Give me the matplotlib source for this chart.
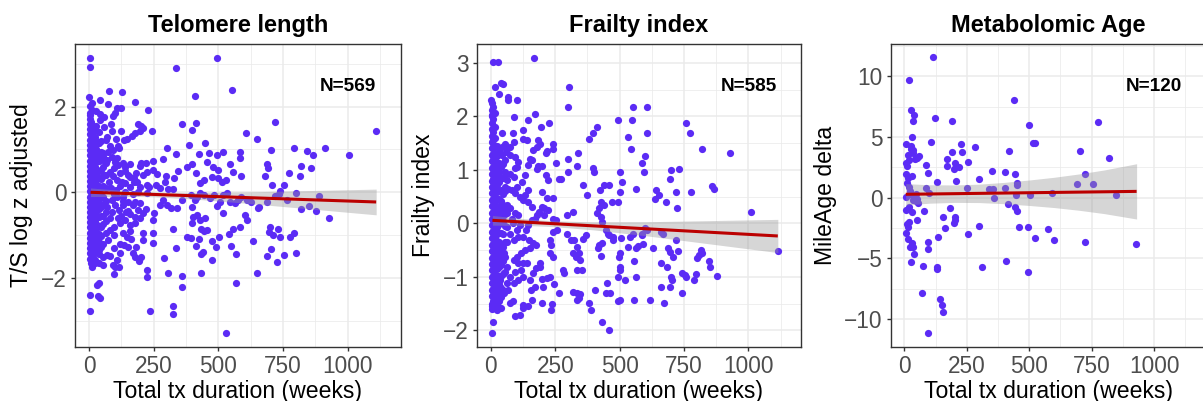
import numpy as np
import matplotlib
matplotlib.use("Agg")
import matplotlib.pyplot as plt
from matplotlib.ticker import MultipleLocator

plt.rcParams['font.family'] = ['Liberation Sans', 'DejaVu Sans']

# ---------------- Telomere length ----------------
tel_pts = [
    (4, 3.14), (4, 2.92), (494, 3.14), (336, 2.91), (554, 2.39), (411, 2.25), (1110, 1.42),
    (76, 2.37), (129, 2.33), (177, 2.11), (229, 1.92), (0, 2.23), (12, 2.09), (43, 2.16),
    (75, 2.06), (107, 1.96), (122, 1.97), (100, 1.86), (94, 1.78), (12, 1.92), (26, 1.90),
    (43, 1.82), (4, 1.8),
    (358, 1.6), (412, 1.61), (400, 1.46), (608, 1.39), (650, 1.25), (719, 1.64), (1006, 0.86),
    (914, 1.04), (841, 0.96), (865, 0.86), (791, 1.04), (702, 0.98), (582, 0.95), (583, 0.81),
    (519, 0.93), (494, 0.86), (449, 1.14), (388, 1.10), (425, 0.89), (464, 0.91), (335, 0.89),
    (300, 1.03), (285, 0.77), (246, 0.74), (242, 1.42), (210, 1.49), (199, 1.44), (188, 1.59),
    (202, 1.55), (179, 1.39), (168, 1.32), (135, 1.21), (148, 1.25), (124, 1.43), (104, 1.24),
    (111, 1.08), (88, 1.42), (67, 1.22), (58, 1.53), (43, 1.69),
    (397, 0.66), (380, 0.6), (415, 0.44), (455, 0.70), (480, 0.60), (500, 0.52), (545, 0.66),
    (558, 0.48), (586, 0.38), (445, 0.29), (429, 0.21), (474, 0.35), (500, 0.33), (513, 0.23),
    (530, 0.29), (343, 0.50), (327, 0.33), (298, 0.39), (262, 0.42), (249, 0.52), (223, 0.48),
    (210, 0.40), (197, 0.61), (220, 0.68), (183, 0.44), (174, 0.25), (152, 0.40), (138, 0.58),
    (159, 0.65), (202, 0.69),
    (687, 0.66), (693, 0.56), (682, 0.37), (706, 0.17), (754, 0.16), (773, 0.44), (816, 0.38),
    (818, 0.62), (859, 0.56), (889, -0.09), (929, -0.59), (876, -0.43), (851, -0.31),
    (819, -0.39), (800, -0.01), (767, -0.18), (736, -0.05), (738, 0.02), (720, -0.09),
    (687, -0.22), (657, -0.35), (652, -0.37), (627, -0.22), (609, -0.18), (589, -0.1),
    (576, -0.18), (563, -0.24), (545, -0.22), (533, -0.01), (517, -0.06), (506, -0.22),
    (495, -0.33), (517, -0.49), (482, -0.06), (466, -0.14), (445, -0.06), (429, -0.02),
    (416, -0.12), (399, -0.35), (408, -0.18), (394, -0.06), (361, -0.18), (341, -0.37),
    (318, -0.37), (300, -0.30), (287, -0.18), (274, -0.30), (251, -0.49), (249, -0.65),
    (259, 0.17), (274, 0.11), (295, 0.25), (307, 0.08), (326, 0.08),
    (710, -1.0), (699, -0.80), (694, -0.93), (739, -1.04), (729, -0.86), (794, -0.96),
    (776, -1.04), (799, -1.41), (755, -1.46), (726, -1.62), (703, -1.33), (687, -1.49),
    (648, -1.88), (633, -1.13), (609, -0.65), (603, -0.53), (583, -0.80), (570, -1.44),
    (570, -2.12), (549, -1.25), (558, -0.86), (543, -0.98), (504, -1.05), (491, -1.27),
    (474, -1.13), (457, -0.88), (446, -0.90), (434, -0.86), (448, -0.61), (429, -0.65),
    (416, -0.53), (403, -0.57), (399, -0.72), (380, -1.05), (396, -1.07), (425, -1.10),
    (414, -1.25), (441, -1.40), (433, -1.44), (475, -1.58), (433, -1.89), (361, -1.95),
    (358, -2.22), (335, -1.31), (323, -0.86), (304, -1.88), (290, -1.54), (249, -1.19),
    (249, -0.94), (207, -0.96), (207, -1.11), (223, -1.81), (223, -1.97), (236, -2.77),
    (326, -2.65), (323, -2.84), (528, -3.28), (5, -2.77), (5, -2.39), (34, -2.41),
    (43, -2.47), (37, -2.11), (30, -2.16),
    (200, -1.50), (194, -1.60), (178, -1.50), (171, -1.42), (182, -1.27), (152, -1.27),
    (161, -1.10), (146, -1.05), (133, -0.96), (137, -1.23), (120, -1.42), (110, -1.58),
    (100, -1.74), (94, -1.70), (115, -1.74), (97, -1.91), (81, -1.49), (68, -1.46),
    (55, -1.52), (39, -1.45), (38, -1.66), (22, -1.66), (10, -1.74), (55, -1.70),
    (75, -1.11), (66, -0.96), (81, -0.88), (97, -0.80), (120, -0.71), (140, -0.65),
    (159, -0.76), (177, -0.71), (177, -0.57), (197, -0.61), (210, -0.49), (220, -0.38),
    (191, -0.41), (169, -0.30), (152, -0.44), (133, -0.30), (117, -0.41), (100, -0.30),
    (88, -0.18), (110, -0.10), (133, -0.10), (150, -0.22), (177, -0.22), (197, -0.26),
    (225, -0.02), (233, 0.13), (223, 0.17), (199, 0.13), (184, 0.25), (175, 0.33),
    (159, 0.13), (139, 0.21), (126, 0.25), (107, 0.29), (94, 0.37), (81, 0.48), (98, 0.56),
    (113, 0.64), (130, 0.68), (107, 0.79), (88, 0.83), (68, 0.75), (55, 0.91), (75, 0.95),
    (94, 0.99), (116, 1.03), (81, 1.07),
    (85, 0.1), (95, -0.05), (105, 0.05), (120, 0.15), (130, -0.2), (140, 0.0), (90, -0.45),
    (112, -0.6), (125, -0.55), (145, -0.45), (160, -0.5), (102, 0.7), (118, 0.45),
    (140, 0.5), (160, 0.35), (170, -0.05), (188, 0.0), (160, -0.9), (118, -1.2), (98, -1.0),
    (82, -0.6), (70, -0.35), (78, 0.25), (62, 0.4), (70, 1.3), (85, 1.6), (60, 1.75),
    (95, -1.3),
]
# dense column of short durations: x position and the y values stacked there
tel_col_x = [3, 9, 15, 22, 29, 37, 46, 55, 65]
tel_col_y = [
    [2.02, 1.86, 1.72, 1.6, 1.47, 1.35, 1.22, 1.1, 0.98, 0.86, 0.74, 0.62, 0.5, 0.38, 0.26,
     0.14, 0.02, -0.1, -0.22, -0.34, -0.46, -0.58, -0.7, -0.82, -0.94, -1.06, -1.18, -1.3,
     -1.42, -1.55],
    [1.65, 1.5, 1.38, 1.24, 1.12, 0.99, 0.87, 0.75, 0.63, 0.51, 0.39, 0.27, 0.15, 0.03, -0.09,
     -0.21, -0.33, -0.45, -0.57, -0.69, -0.81, -0.93, -1.05, -1.17, -1.29, -1.41, -1.53, -1.65],
    [1.55, 1.41, 1.27, 1.13, 0.93, 0.8, 0.68, 0.56, 0.44, 0.32, 0.2, 0.08, -0.04, -0.16, -0.28,
     -0.4, -0.52, -0.64, -0.76, -0.88, -1.0, -1.12, -1.24, -1.36, -1.5, -1.62],
    [1.45, 1.3, 1.1, 0.95, 0.82, 0.7, 0.58, 0.46, 0.33, 0.2, 0.07, -0.06, -0.19, -0.32, -0.45,
     -0.58, -0.7, -0.83, -0.96, -1.08, -1.25, -1.4, -1.58],
    [1.55, 1.2, 1.0, 0.85, 0.7, 0.55, 0.42, 0.28, 0.12, -0.02, -0.16, -0.3, -0.45, -0.6,
     -0.75, -0.9, -1.05, -1.22, -1.4],
    [1.4, 1.15, 0.9, 0.72, 0.5, 0.33, 0.15, -0.05, -0.22, -0.4, -0.58, -0.78, -0.98, -1.15,
     -1.35],
    [1.2, 0.95, 0.75, 0.52, 0.3, 0.1, -0.12, -0.35, -0.55, -0.8, -1.02, -1.28],
    [0.85, 0.6, 0.38, 0.15, -0.1, -0.3, -0.55, -0.75, -1.2],
    [0.68, 0.4, 0.1, -0.2, -0.45, -0.68],
]
tel_fit_x = [6, 1110]
tel_fit_y = [0.0, -0.226]
tel_band_x = [6, 150, 250, 400, 600, 800, 1000, 1110]
tel_band_hw = [0.10, 0.065, 0.055, 0.075, 0.13, 0.196, 0.263, 0.30]

# ---------------- Frailty index ----------------
fra_pts = [
    (8, 3.02), (27, 3.02), (168, 3.09), (14, 2.54), (40, 2.63), (46, 2.60), (30, 2.41),
    (65, 2.36), (68, 2.30), (101, 2.30), (1, 2.30), (8, 2.18), (14, 2.07), (5, 2.02),
    (88, 1.99), (172, 2.05), (143, 1.93), (227, 1.87), (195, 1.80), (17, 1.80), (123, 1.74),
    (85, 1.68), (43, 1.68), (303, 2.54), (299, 2.18), (550, 2.18), (608, 2.18), (494, 1.93),
    (546, 1.93), (410, 1.80), (397, 1.68), (382, 1.57), (606, 1.68), (533, 1.62), (756, 1.88),
    (774, 1.68), (821, 1.38), (929, 1.32), (543, 1.38), (600, 1.26), (586, 1.13), (594, 0.95),
    (337, 1.32), (335, 1.08), (298, 1.21), (253, 1.13), (397, 1.03), (402, 0.96), (503, 0.95),
    (510, 0.78), (565, 0.65), (299, 0.95), (273, 0.83), (264, 0.83), (357, 0.72), (372, 0.53),
    (439, 0.72), (459, 0.72), (423, 0.62), (503, 0.58), (429, 0.40), (472, 0.40), (494, 0.40),
    (421, 0.28), (439, 0.34), (410, 0.19), (317, 0.22), (294, 0.16), (701, 1.00), (730, 1.01),
    (697, 0.82), (640, 0.63), (636, 0.45), (653, 0.53), (681, 0.40), (719, 0.58), (722, 0.28),
    (778, 0.58), (859, 0.70), (865, 0.64), (1010, 0.22), (1114, -0.51), (821, -0.55),
    (817, -0.50), (808, -0.59), (801, -0.64), (845, -0.70), (852, -0.82), (878, -0.99),
    (797, -0.95), (788, -1.06), (741, -0.93), (754, -0.96), (756, -1.01), (741, -1.31),
    (694, -1.18), (659, -1.18), (700, -1.00), (704, -1.06), (662, -0.75), (684, -0.81),
    (707, -0.62), (694, -0.53), (688, -0.47), (719, -0.32), (726, -0.51), (668, -0.19),
    (662, -0.16), (606, -0.12), (597, -0.08), (587, -0.19), (585, -0.21), (563, -0.47),
    (572, -0.42), (590, -0.39), (552, -0.20), (539, -0.26), (534, -0.44), (628, -0.46),
    (565, -1.00), (556, -1.43), (619, -1.43), (672, -1.49), (557, -0.70), (520, -1.06),
    (497, -0.62), (503, -0.56), (500, -0.81), (494, -1.00), (500, -0.87), (507, -0.28),
    (475, -0.26), (459, -0.22), (454, -0.19), (446, -0.12), (494, -1.46), (500, -1.43),
    (475, -0.31), (432, -0.37), (427, -0.61), (417, -0.47), (419, -0.40), (433, 0.03),
    (429, 0.12), (446, -1.31), (462, -1.31), (449, -1.12), (432, -1.85), (458, -1.99),
    (404, -1.24), (381, -1.49), (389, -1.62), (354, -0.87), (333, -0.87), (345, -0.68),
    (343, -0.56), (324, -0.31), (310, -0.31), (294, -0.19), (333, -0.44), (320, -0.56),
    (330, -0.62), (356, -0.30), (368, -0.22), (284, -0.93), (279, -0.88), (320, -1.28),
    (333, -1.31), (342, -1.40), (345, -1.32), (333, -1.43), (264, -1.31), (246, -1.14),
    (239, -1.51), (233, -1.62), (230, -1.00), (217, -1.02), (197, -1.04), (204, -1.18),
    (192, -0.75), (190, -0.81), (175, -0.84), (172, -1.18), (156, -1.24), (197, -1.49),
    (159, -1.43), (143, -1.54), (126, -1.52), (123, -1.59), (114, -1.71), (94, -1.74),
    (75, -1.49), (85, -1.46), (10, -1.85), (5, -2.04), (23, -1.62), (13, -1.49), (5, -1.54),
    (243, -0.62), (230, -0.56), (233, -0.40), (230, -0.31), (243, -0.16), (255, -0.12),
    (253, 0.07), (240, 0.09), (223, 0.25), (206, 0.28), (243, 0.47), (217, 0.47), (197, 0.59),
    (213, 0.90), (223, 0.81), (243, 1.49), (240, 1.38), (213, 1.32), (182, 1.07), (197, 1.08),
    (179, 1.01), (143, 1.09), (133, 0.90), (101, 1.06), (107, 1.15), (94, 1.24), (75, 1.28),
    (75, 1.43), (65, 1.40), (88, 1.52), (123, 1.57), (140, 1.56), (152, 1.21), (159, 1.19),
    (182, 1.56), (190, 1.49), (179, 1.42), (163, 1.37), (217, 1.36), (143, 0.62), (133, 0.53),
    (94, 0.56), (114, 0.50), (126, 0.44), (143, 0.40), (159, 0.31), (185, 0.22), (197, 0.31),
    (208, 0.16), (178, 0.16), (172, 0.09), (159, 0.06), (143, -0.03), (137, -0.12),
    (126, -0.25), (101, -0.12), (107, -0.25), (88, -0.31), (75, -0.19), (62, -0.34),
    (146, -0.31), (163, -0.37), (175, -0.40), (152, -0.47), (133, -0.50), (117, -0.56),
    (101, -0.62), (88, -0.68), (107, -0.75), (124, -0.75), (139, -0.75), (117, -0.87),
    (94, -0.90), (75, -1.00), (88, -1.12), (107, -1.06), (126, -1.00), (150, -1.06),
    (165, -0.93), (62, -1.12), (68, -1.24), (49, -1.31), (36, -1.37), (36, -1.18),
    (36, -1.06), (49, -0.93), (62, -0.81), (49, -0.56), (36, -0.68), (55, 0.68), (68, 0.65),
    (81, 0.62), (101, 0.68), (120, 0.78), (88, 0.87), (62, 0.81), (75, 0.93), (55, 0.96),
    (94, 1.03), (55, 1.18), (43, 1.28), (59, 1.34), (45, 1.43), (55, 1.49), (43, 0.37),
    (62, 0.34), (75, 0.28), (94, 0.19), (107, 0.16), (62, 0.19), (81, 0.09), (49, 0.16),
    (62, -0.06), (85, 0.00), (114, -0.03),
]
fra_col_x = [3, 9, 15, 22, 30, 38, 47, 56]
fra_col_y = [
    [2.25, 2.12, 2.0, 1.88, 1.76, 1.64, 1.52, 1.4, 1.28, 1.16, 1.04, 0.92, 0.8, 0.68, 0.56,
     0.44, 0.32, 0.2, 0.08, -0.04, -0.16, -0.28, -0.4, -0.52, -0.64, -0.76, -0.88, -1.0,
     -1.12, -1.24, -1.36, -1.5, -1.6],
    [1.95, 1.7, 1.55, 1.42, 1.3, 1.18, 1.06, 0.94, 0.82, 0.7, 0.58, 0.46, 0.34, 0.22, 0.1,
     -0.02, -0.14, -0.26, -0.38, -0.5, -0.62, -0.74, -0.86, -0.98, -1.1, -1.22, -1.34, -1.46,
     -1.58],
    [1.6, 1.45, 1.32, 1.2, 1.07, 0.95, 0.83, 0.71, 0.59, 0.47, 0.35, 0.23, 0.11, -0.01, -0.13,
     -0.25, -0.37, -0.49, -0.61, -0.73, -0.85, -0.97, -1.09, -1.21, -1.33, -1.45],
    [1.45, 1.25, 1.1, 0.97, 0.84, 0.71, 0.58, 0.45, 0.32, 0.19, 0.06, -0.07, -0.2, -0.33,
     -0.46, -0.59, -0.72, -0.85, -0.98, -1.11, -1.24, -1.38, -1.52],
    [1.35, 1.12, 0.95, 0.78, 0.6, 0.45, 0.3, 0.14, -0.02, -0.18, -0.34, -0.5, -0.66, -0.82,
     -0.98, -1.14, -1.3, -1.45],
    [1.3, 1.05, 0.85, 0.62, 0.42, 0.22, 0.02, -0.18, -0.38, -0.58, -0.78, -0.98, -1.2, -1.38,
     -1.58],
    [1.1, 0.85, 0.55, 0.3, 0.05, -0.2, -0.45, -0.7, -0.95, -1.25],
    [0.9, 0.6, 0.25, -0.05, -0.35, -0.62, -0.9],
]
fra_fit_x = [6, 1114]
fra_fit_y = [0.056, -0.236]
fra_band_x = [6, 150, 250, 400, 600, 800, 1000, 1114]
fra_band_hw = [0.09, 0.06, 0.055, 0.075, 0.13, 0.20, 0.27, 0.31]

# ---------------- Metabolomic Age ----------------
met_pts = [
    (114, 11.57), (19, 9.70), (27, 7.25), (40, 6.80), (36, 6.34), (123, 6.61), (191, 6.34),
    (30, 5.04), (7, 4.44), (107, 4.57), (227, 4.44), (231, 3.75), (282, 4.21), (191, 3.75),
    (170, 3.20), (172, 2.62), (197, 2.34), (204, 2.84), (217, 2.51), (207, 2.62), (255, 2.98),
    (13, 3.53), (27, 3.99), (36, 3.94), (34, 3.72), (7, 2.89), (12, 2.62), (19, 3.11),
    (43, 3.17), (59, 3.44), (51, 3.25), (8, 1.96), (32, 1.82), (16, 1.60), (87, 2.70),
    (93, 2.01), (132, 1.29), (208, 1.38), (298, 1.52), (349, 2.23), (401, 2.12), (444, 1.96),
    (438, 8.02), (499, 6.01), (513, 4.49), (522, 4.49), (419, 3.86), (705, 3.86), (776, 6.23),
    (820, 3.25), (725, 1.96), (690, 1.10), (754, 1.10), (847, 0.22), (591, 0.41), (501, 0.22),
    (449, 1.24), (449, 1.05), (446, 0.19), (401, 0.83), (354, 0.69), (359, 0.00), (339, 0.72),
    (252, 0.77), (413, -0.52), (441, -0.80), (449, -1.07), (460, -2.40), (494, -2.40),
    (573, -2.59), (521, -3.36), (601, -3.50), (722, -3.64), (929, -3.83), (405, -5.21),
    (311, -5.76), (495, -6.12), (297, -2.34), (254, -3.00), (181, -0.88), (154, -1.63),
    (164, -2.48), (204, -1.57), (204, -1.85), (200, -2.12), (134, -3.28), (94, -3.69),
    (94, -4.27), (97, 0.41), (86, 0.83), (77, -1.10), (51, -1.85), (43, 0.08), (50, -0.14),
    (56, -0.47), (36, -0.19), (30, 0.22), (24, 0.58), (19, 0.85), (7, 0.08), (5, -1.02),
    (19, -0.80), (30, -1.16), (20, -1.98), (16, -2.40), (7, -2.95), (16, -3.44), (32, -3.72),
    (34, -4.10), (24, -4.10), (39, -4.66), (27, -5.29), (74, -5.65), (132, -5.70),
    (132, -5.92), (72, -7.85), (141, -8.32), (150, -8.87), (154, -9.45), (93, -11.16),
    (45, -0.3), (12, 1.2), (25, 4.3), (48, 0.3), (10, -2.2),
]
met_fit_x = [5, 930]
met_fit_y = [0.28, 0.52]
met_band_x = [5, 100, 200, 300, 400, 500, 600, 700, 800, 930]
met_band_hw = [0.88, 0.76, 0.72, 0.76, 0.88, 1.05, 1.25, 1.5, 1.8, 2.28]

titles = ["Telomere length", "Frailty index", "Metabolomic Age"]
ylabels = ["T/S log z adjusted", "Frailty index", "MileAge delta"]
n_labels = ["N=569", "N=585", "N=120"]
xlabel = "Total tx duration (weeks)"

W, H = 1203, 401
POINT = '#5B2BF5'
LINE = '#BB0000'

panels = [
    dict(pts=tel_pts, cols=(tel_col_x, tel_col_y), fit=(tel_fit_x, tel_fit_y),
         band=(tel_band_x, tel_band_hw), ylim=(-3.61, 3.46), ymaj=2, ymin=1,
         box=(75, 400.5), ylab_x=-0.129),
    dict(pts=fra_pts, cols=(fra_col_x, fra_col_y), fit=(fra_fit_x, fra_fit_y),
         band=(fra_band_x, fra_band_hw), ylim=(-2.31, 3.35), ymaj=1, ymin=0.5,
         box=(477, 801), ylab_x=-0.13),
    dict(pts=met_pts, cols=([], []), fit=(met_fit_x, met_fit_y),
         band=(met_band_x, met_band_hw), ylim=(-12.32, 12.68), ymaj=5, ymin=2.5,
         box=(891, 1205), ylab_x=-0.173),
]

fig = plt.figure(figsize=(W / 100, H / 100), dpi=100)
top, bottom = 44, 347

for i, p in enumerate(panels):
    l, r = p['box']
    ax = fig.add_axes([l / W, (H - bottom) / H, (r - l) / W, (bottom - top) / H])

    xs = [q[0] for q in p['pts']]
    ys = [q[1] for q in p['pts']]
    for cx, cy in zip(*p['cols']):
        xs += [cx] * len(cy)
        ys += cy
    ax.scatter(xs, ys, s=27, color=POINT, linewidths=0, zorder=2)

    bx, hw = np.array(p['band'][0]), np.array(p['band'][1])
    by = np.interp(bx, p['fit'][0], p['fit'][1])
    ax.fill_between(bx, by - hw, by + hw, color='#999999', alpha=0.4, linewidth=0, zorder=3)
    ax.plot(p['fit'][0], p['fit'][1], color=LINE, lw=2.2, solid_capstyle='butt', zorder=4)

    ax.set_xlim(-54, 1204)
    ax.set_ylim(*p['ylim'])
    ax.xaxis.set_major_locator(MultipleLocator(250))
    ax.xaxis.set_minor_locator(MultipleLocator(125))
    ax.yaxis.set_major_locator(MultipleLocator(p['ymaj']))
    ax.yaxis.set_minor_locator(MultipleLocator(p['ymin']))
    ax.set_axisbelow(True)
    ax.grid(which='major', color='#EBEBEB', lw=1.1, zorder=0)
    ax.grid(which='minor', color='#EBEBEB', lw=0.55, zorder=0)
    ax.tick_params(which='major', length=2.9, width=1.0, color='#333333',
                   labelcolor='#4D4D4D', labelsize=16.3, pad=3)
    ax.tick_params(which='minor', length=0)
    for s in ax.spines.values():
        s.set_color('#333333')
        s.set_linewidth(1.0)

    ax.text(0.5, 1.04, titles[i], transform=ax.transAxes, ha='center', va='baseline',
            fontsize=17, fontweight='bold', color='black')
    ax.text(1000, 0.861, n_labels[i], transform=ax.get_xaxis_transform(), ha='center',
            va='center', fontsize=13.7, fontweight='bold', color='black')
    ax.set_xlabel(xlabel, fontsize=16.6, color='black')
    ax.xaxis.set_label_coords(0.5, -0.108)
    ax.set_ylabel(ylabels[i], fontsize=16.6, color='black')
    ax.yaxis.set_label_coords(p['ylab_x'], 0.5)

fig.savefig('out.png', dpi=100)
